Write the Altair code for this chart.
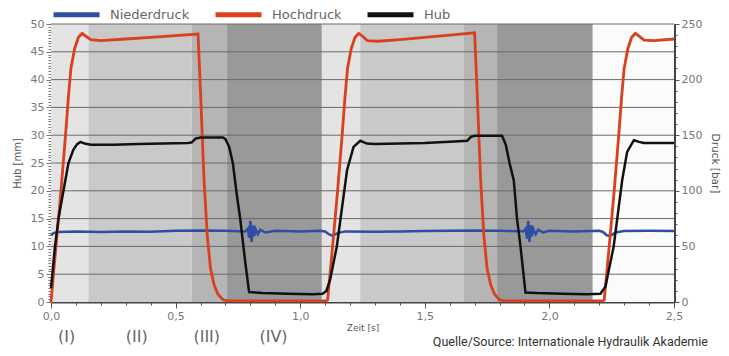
import altair as alt
import pandas as pd

# ---------------- data ----------------
# background phases (time in s)
phase_start = [0.0, 0.15, 0.565, 0.705, 1.087, 1.241, 1.655, 1.79, 2.174]
phase_end = [0.15, 0.565, 0.705, 1.087, 1.241, 1.655, 1.79, 2.174, 2.5]
phase_kind = ["I", "II", "III", "IV", "I", "II", "III", "IV", "V"]

# Hochdruck [bar]
hd_t = [0.0, 0.02, 0.04, 0.06, 0.07, 0.08, 0.095, 0.11, 0.125, 0.14, 0.16, 0.2, 0.3, 0.4, 0.5, 0.59,
        0.598, 0.614, 0.627, 0.64, 0.655, 0.67, 0.69, 0.71, 0.8, 1.0, 1.105,
        1.11, 1.13, 1.15, 1.17, 1.18, 1.19, 1.205, 1.22, 1.235, 1.25, 1.27, 1.31, 1.4, 1.5, 1.6, 1.70,
        1.708, 1.724, 1.737, 1.75, 1.765, 1.78, 1.80, 1.82, 2.0, 2.215,
        2.22, 2.24, 2.26, 2.28, 2.29, 2.30, 2.315, 2.33, 2.345, 2.36, 2.38, 2.42, 2.5]
hd_v = [0, 50, 100, 155, 185, 210, 228, 238, 241.5, 239, 236, 235, 236.5, 238, 239.5, 241,
        200, 110, 60, 30, 15, 7, 2, 1, 1, 1, 1,
        2, 50, 100, 155, 185, 210, 228, 238, 241.5, 239, 235, 234.5, 236, 238, 240, 242,
        200, 110, 60, 30, 15, 7, 2, 1, 1, 1,
        2, 50, 100, 155, 185, 210, 228, 238, 241.5, 239, 235.5, 235, 236.5]

# Hub [mm]
hub_t = [0.0, 0.016, 0.03, 0.05, 0.07, 0.09, 0.105, 0.118, 0.135, 0.16, 0.25, 0.35, 0.45, 0.55, 0.565,
         0.58, 0.6, 0.69, 0.70, 0.715, 0.73, 0.745, 0.76, 0.78, 0.795, 0.85, 0.95, 1.05, 1.09,
         1.105, 1.12, 1.147, 1.161, 1.188, 1.214, 1.241, 1.268, 1.3, 1.4, 1.5, 1.6, 1.67,
         1.685, 1.7, 1.81, 1.825, 1.84, 1.857, 1.87, 1.884, 1.904, 1.95, 2.05, 2.15, 2.205,
         2.225, 2.258, 2.292, 2.312, 2.339, 2.36, 2.379, 2.5]
hub_v = [2.5, 10, 15, 20, 25, 27.4, 28.4, 28.8, 28.5, 28.3, 28.3, 28.4, 28.5, 28.6, 28.7,
         29.4, 29.6, 29.6, 29.3, 27.9, 24.9, 19.5, 14.7, 7, 1.8, 1.6, 1.5, 1.4, 1.5,
         2, 4, 10, 14.7, 23.7, 27.9, 29.0, 28.5, 28.4, 28.5, 28.6, 28.8, 29.0,
         29.7, 29.9, 29.9, 28.3, 25, 21.9, 15, 10, 1.7, 1.6, 1.5, 1.4, 1.5,
         2.8, 10, 21.9, 27, 29.1, 28.8, 28.6, 28.6]

# Niederdruck [bar]
nd_t = [0.0, 0.01, 0.03, 0.1, 0.2, 0.3, 0.4, 0.5, 0.6, 0.7, 0.78,
        0.79, 0.795, 0.8, 0.805, 0.81, 0.815, 0.82, 0.83, 0.84, 0.86, 0.9, 1.0, 1.08,
        1.1, 1.115, 1.13, 1.15, 1.18, 1.3, 1.4, 1.5, 1.6, 1.7, 1.8, 1.895,
        1.905, 1.91, 1.915, 1.92, 1.925, 1.93, 1.935, 1.945, 1.955, 1.975, 2.0, 2.1, 2.2,
        2.215, 2.23, 2.245, 2.265, 2.3, 2.4, 2.5]
nd_v = [60, 62, 63, 63.3, 63, 63.5, 63.2, 64, 64.3, 64, 63.5,
        66, 58, 73, 54, 69, 59, 66, 61, 65, 62.5, 64, 63.5, 64,
        63.5, 61, 59.5, 62, 63.5, 63.2, 63.5, 63.8, 64, 64.3, 64, 63.6,
        66, 57, 73, 54, 69, 59, 66, 61, 65, 62.5, 64, 63.5, 64,
        63, 60, 59.5, 62.5, 63.8, 64, 63.8]

series_names = ["Niederdruck", "Hochdruck", "Hub"]
series_colors = ["#2f4ea3", "#d8401e", "#111111"]

grid_vals = [5, 10, 15, 20, 25, 30, 35, 40, 45, 50]
x_ticks = [0.0, 0.1, 0.2, 0.3, 0.4, 0.5, 0.6, 0.7, 0.8, 0.9, 1.0, 1.1, 1.2, 1.3, 1.4, 1.5,
           1.6, 1.7, 1.8, 1.9, 2.0, 2.1, 2.2, 2.3, 2.4, 2.5]
hub_ticks = [i * 0.5 for i in range(0, 101)]
bar_ticks = list(range(0, 251, 10))

roman_labels = ["(I)", "(II)", "(III)", "(IV)"]
roman_t = [0.063, 0.344, 0.625, 0.893]
source_text = "Quelle/Source: Internationale Hydraulik Akademie"

# ---------------- frames ----------------
bg_df = pd.DataFrame({"start": phase_start, "end": phase_end, "phase": phase_kind})
hd_df = pd.DataFrame({"t": hd_t, "p": hd_v, "series": "Hochdruck"})
nd_df = pd.DataFrame({"t": nd_t, "p": nd_v, "series": "Niederdruck"})
hub_df = pd.DataFrame({"t": hub_t, "h": hub_v, "series": "Hub"})
grid_df = pd.DataFrame({"g": grid_vals})
roman_df = pd.DataFrame({"t": roman_t, "label": roman_labels})
src_df = pd.DataFrame({"label": [source_text]})

W, H = 623, 278
FONT = "DejaVu Sans"
xscale = alt.Scale(domain=[0, 2.5], nice=False, zero=False)

major_x = "abs(datum.value*2 - round(datum.value*2)) < 0.001"
x_axis = alt.Axis(
    values=x_ticks,
    labelExpr="abs(datum.value*2 - round(datum.value*2)) < 0.001 ? replace(format(datum.value, '.1f'), '.', ',') : ''",
    tickSize=alt.condition(major_x, alt.value(6), alt.value(3)),
    tickColor="#555", domainColor="#444", domainWidth=2,
    labelFont=FONT, labelFontSize=11, labelColor="#777", labelPadding=2,
    title="Zeit [s]", titleFont=FONT, titleFontSize=9, titleFontWeight="normal",
    titleColor="#555", titlePadding=2, grid=False, labelFlush=False,
)


def X(field):
    return alt.X(field, type="quantitative", scale=xscale, axis=x_axis)


bg = alt.Chart(bg_df).mark_rect().encode(
    x=X("start"),
    x2="end:Q",
    fill=alt.Fill("phase:N", scale=alt.Scale(domain=["I", "II", "III", "IV", "V"],
                                           range=["#e4e4e4", "#c9c9c9", "#b5b5b5", "#999999", "#fbfbfb"]),
                  legend=None),
)

left_axis = alt.Axis(
    orient="left", values=hub_ticks,
    labelExpr="datum.value % 5 == 0 ? format(datum.value, 'd') : ''",
    tickSize=alt.condition("datum.value % 5 == 0", alt.value(5), alt.value(3)),
    tickColor="#777", domainColor="#bbb",
    labelFont=FONT, labelFontSize=11, labelColor="#777", labelPadding=2,
    title="Hub [mm]", titleFont=FONT, titleFontSize=10, titleFontWeight="normal",
    titleColor="#555", titlePadding=8, grid=False,
)

grid = alt.Chart(grid_df).mark_rule(color="#6a6a6a", strokeWidth=1).encode(
    y=alt.Y("g:Q", scale=alt.Scale(domain=[0, 50], nice=False), axis=left_axis),
)

right_axis = alt.Axis(
    orient="right", values=bar_ticks,
    labelExpr="datum.value % 50 == 0 ? datum.label : ''",
    tickSize=alt.condition("datum.value % 50 == 0", alt.value(5), alt.value(3)),
    tickColor="#555", domainColor="#444", domainWidth=3,
    labelFont=FONT, labelFontSize=11, labelColor="#777", labelPadding=2,
    title="Druck [bar]", titleFont=FONT, titleFontSize=10.5, titleFontWeight="normal",
    titleColor="#555", titlePadding=8, grid=False,
)

color = alt.Color(
    "series:N",
    scale=alt.Scale(domain=series_names, range=series_colors),
    legend=alt.Legend(
        orient="none", legendX=0, legendY=-35, direction="horizontal", title=None,
        symbolType="stroke", symbolSize=2116, symbolStrokeWidth=5,
        labelFont=FONT, labelFontSize=13, labelColor="#666", labelOffset=8,
        columnPadding=15, padding=0,
    ),
)

nd = alt.Chart(nd_df).mark_line(strokeWidth=2.5).encode(
    x=X("t"), y=alt.Y("p:Q", scale=alt.Scale(domain=[0, 250], nice=False), axis=right_axis),
    color=color,
)
hd = alt.Chart(hd_df).mark_line(strokeWidth=2.8).encode(
    x=X("t"), y=alt.Y("p:Q", scale=alt.Scale(domain=[0, 250], nice=False), axis=None),
    color=color,
)
hub = alt.Chart(hub_df).mark_line(strokeWidth=2.5).encode(
    x=X("t"), y=alt.Y("h:Q", scale=alt.Scale(domain=[0, 50], nice=False), axis=None),
    color=color,
)

roman = alt.Chart(roman_df).mark_text(font=FONT, fontSize=16, color="#666").encode(
    x=X("t"), y=alt.value(H + 35), text="label:N",
)
src = alt.Chart(src_df).mark_text(font="Roboto", fontSize=12.5, color="#333", align="right").encode(
    x=alt.value(W + 34), y=alt.value(H + 40), text="label:N",
)

chart = alt.layer(bg, grid, nd, hd, hub, roman, src).resolve_scale(y="independent").properties(
    width=W, height=H,
    autosize=alt.AutoSizeParams(type="none"),
    padding={"left": 43, "top": 16, "right": 47, "bottom": 50},
).configure_view(stroke=None)

chart.save("out.html", embed_options={"renderer": "svg", "actions": False})
